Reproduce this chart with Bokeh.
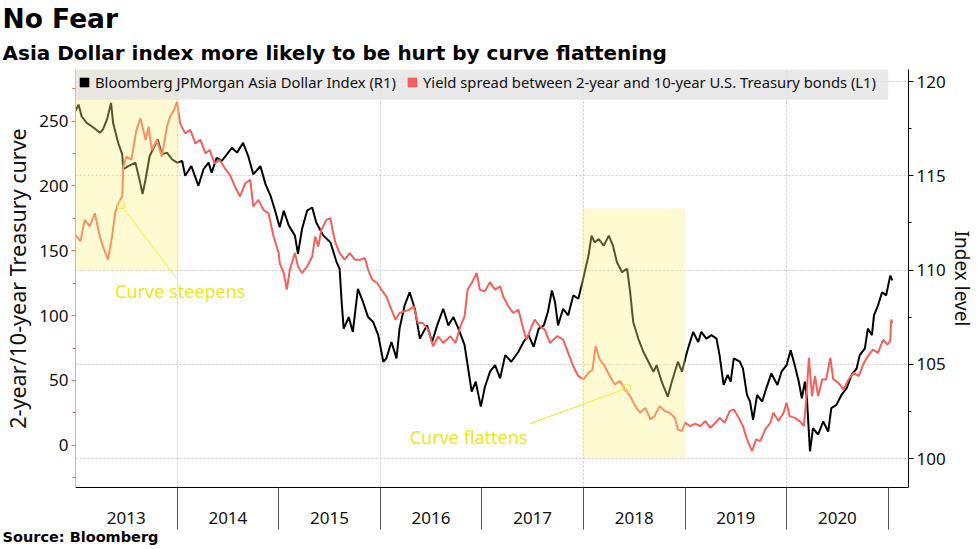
from bokeh.plotting import figure
from bokeh.models import (Range1d, LinearAxis, SingleIntervalTicker, FixedTicker, Grid, Title,
                          BoxAnnotation, Label, Legend, LegendItem, CustomJSTickFormatter)
from bokeh.embed import file_html
from bokeh.resources import INLINE

# ---------------- data ----------------
YEARS = [2013, 2014, 2015, 2016, 2017, 2018, 2019, 2020]
GRID_YEARS = [2014, 2016, 2018, 2020]
LEFT_TICKS_STEP = 50
RIGHT_GRID = [100, 105, 110, 115, 120]

TITLE = "No Fear"
SUBTITLE = "Asia Dollar index more likely to be hurt by curve flattening"
SOURCE = "Source: Bloomberg"
LEGEND_ADXY = "Bloomberg JPMorgan Asia Dollar Index (R1)"
LEGEND_SPREAD = "Yield spread between 2-year and 10-year U.S. Treasury bonds (L1)"

ADXY_T = [
    2013.00, 2013.03, 2013.06, 2013.11, 2013.18, 2013.24, 2013.27, 2013.31, 2013.35, 2013.37,
    2013.42, 2013.46, 2013.47, 2013.52, 2013.59, 2013.64, 2013.66, 2013.69, 2013.73, 2013.81,
    2013.85, 2013.90, 2013.95, 2014.00, 2014.05, 2014.08, 2014.14, 2014.21, 2014.26, 2014.31,
    2014.34, 2014.39, 2014.44, 2014.49, 2014.54, 2014.59, 2014.65, 2014.70, 2014.75, 2014.82,
    2014.87, 2014.92, 2014.96, 2015.01, 2015.05, 2015.10, 2015.16, 2015.19, 2015.23, 2015.28,
    2015.33, 2015.37, 2015.44, 2015.51, 2015.57, 2015.60, 2015.62, 2015.64, 2015.69, 2015.73,
    2015.78, 2015.83, 2015.88, 2015.93, 2015.98, 2016.03, 2016.06, 2016.11, 2016.16, 2016.19,
    2016.24, 2016.29, 2016.34, 2016.39, 2016.46, 2016.51, 2016.56, 2016.62, 2016.67, 2016.72,
    2016.77, 2016.83, 2016.87, 2016.90, 2016.94, 2016.99, 2017.03, 2017.08, 2017.13, 2017.18,
    2017.23, 2017.29, 2017.36, 2017.41, 2017.46, 2017.51, 2017.56, 2017.61, 2017.65, 2017.69,
    2017.72, 2017.75, 2017.80, 2017.85, 2017.90, 2017.95, 2017.99, 2018.02, 2018.05, 2018.08,
    2018.11, 2018.15, 2018.20, 2018.25, 2018.29, 2018.33, 2018.38, 2018.43, 2018.46, 2018.49,
    2018.54, 2018.59, 2018.64, 2018.69, 2018.72, 2018.77, 2018.83, 2018.87, 2018.93, 2018.97,
    2019.02, 2019.05, 2019.08, 2019.13, 2019.16, 2019.21, 2019.26, 2019.31, 2019.34, 2019.38,
    2019.42, 2019.45, 2019.48, 2019.54, 2019.57, 2019.61, 2019.64, 2019.67, 2019.71, 2019.76,
    2019.80, 2019.85, 2019.91, 2019.95, 2020.00, 2020.04, 2020.08, 2020.12, 2020.15, 2020.18,
    2020.20, 2020.23, 2020.26, 2020.31, 2020.36, 2020.41, 2020.44, 2020.49, 2020.54, 2020.59,
    2020.64, 2020.69, 2020.72, 2020.77, 2020.80, 2020.84, 2020.86, 2020.90, 2020.94, 2020.98,
    2021.02, 2021.04,
]
ADXY = [
    118.43, 118.78, 118.16, 117.81, 117.55, 117.28, 117.46, 117.99, 118.87, 117.81,
    116.75, 116.14, 115.35, 115.52, 115.70, 114.56, 114.03, 114.82, 116.05, 116.93,
    116.14, 116.23, 115.88, 115.70, 115.79, 115.00, 115.52, 114.47, 115.35, 115.70,
    115.17, 115.96, 115.79, 116.14, 116.49, 116.23, 116.75, 116.05, 115.08, 115.52,
    114.56, 113.94, 113.24, 112.27, 113.15, 112.36, 111.83, 110.86, 112.18, 113.15,
    113.32, 112.53, 111.83, 111.47, 110.42, 110.07, 108.31, 106.90, 107.51, 106.72,
    109.01, 108.31, 107.51, 107.25, 106.55, 105.14, 105.32, 106.19, 105.32, 106.90,
    108.13, 108.83, 107.95, 106.37, 107.07, 106.19, 107.07, 107.95, 107.07, 107.51,
    106.90, 106.02, 104.61, 103.55, 104.08, 102.76, 103.80, 104.61, 104.96, 104.26,
    105.49, 105.14, 105.67, 106.19, 106.55, 105.93, 106.90, 107.07, 107.78, 108.92,
    108.31, 107.07, 107.95, 107.60, 108.66, 108.48, 109.36, 110.07, 110.77, 111.83,
    111.47, 111.65, 111.30, 111.83, 111.30, 110.42, 109.89, 110.07, 108.83, 107.25,
    106.37, 105.67, 105.14, 104.61, 104.96, 104.08, 103.29, 104.08, 105.14, 104.61,
    105.67, 106.20, 106.72, 106.19, 106.72, 106.37, 106.55, 106.37, 105.49, 103.91,
    104.44, 104.08, 105.32, 105.14, 104.79, 103.38, 103.03, 102.06, 103.38, 103.03,
    103.73, 104.52, 103.91, 104.61, 104.96, 105.75, 104.96, 104.08, 103.20, 104.08,
    103.20, 100.39, 101.62, 101.27, 101.97, 101.44, 102.68, 102.85, 103.38, 103.73,
    104.44, 104.79, 105.49, 105.84, 106.90, 106.55, 107.60, 108.13, 108.83, 108.66,
    109.71, 109.45,
]

SPREAD_T = [
    2013.00, 2013.05, 2013.09, 2013.14, 2013.19, 2013.24, 2013.27, 2013.32, 2013.36, 2013.39,
    2013.42, 2013.46, 2013.47, 2013.50, 2013.55, 2013.60, 2013.64, 2013.69, 2013.72, 2013.75,
    2013.80, 2013.85, 2013.90, 2013.93, 2013.97, 2014.00, 2014.03, 2014.08, 2014.13, 2014.18,
    2014.23, 2014.28, 2014.32, 2014.37, 2014.42, 2014.47, 2014.52, 2014.57, 2014.62, 2014.67,
    2014.72, 2014.75, 2014.80, 2014.85, 2014.90, 2014.95, 2015.00, 2015.01, 2015.05, 2015.08,
    2015.11, 2015.16, 2015.19, 2015.23, 2015.28, 2015.33, 2015.36, 2015.39, 2015.42, 2015.47,
    2015.51, 2015.53, 2015.56, 2015.60, 2015.65, 2015.70, 2015.75, 2015.80, 2015.85, 2015.88,
    2015.92, 2015.97, 2016.01, 2016.06, 2016.11, 2016.15, 2016.19, 2016.24, 2016.29, 2016.33,
    2016.37, 2016.42, 2016.47, 2016.52, 2016.57, 2016.62, 2016.69, 2016.74, 2016.79, 2016.83,
    2016.86, 2016.90, 2016.95, 2016.98, 2017.03, 2017.08, 2017.13, 2017.18, 2017.21, 2017.26,
    2017.31, 2017.36, 2017.41, 2017.44, 2017.49, 2017.52, 2017.57, 2017.62, 2017.67, 2017.74,
    2017.80, 2017.85, 2017.90, 2017.95, 2018.00, 2018.05, 2018.09, 2018.12, 2018.16, 2018.21,
    2018.26, 2018.31, 2018.36, 2018.41, 2018.46, 2018.51, 2018.56, 2018.61, 2018.66, 2018.70,
    2018.75, 2018.80, 2018.85, 2018.90, 2018.93, 2018.97, 2019.00, 2019.05, 2019.10, 2019.15,
    2019.20, 2019.25, 2019.30, 2019.34, 2019.39, 2019.44, 2019.48, 2019.52, 2019.57, 2019.61,
    2019.66, 2019.70, 2019.74, 2019.79, 2019.84, 2019.87, 2019.92, 2019.97, 2020.00, 2020.03,
    2020.08, 2020.13, 2020.17, 2020.19, 2020.22, 2020.25, 2020.28, 2020.31, 2020.35, 2020.39,
    2020.43, 2020.46, 2020.51, 2020.56, 2020.61, 2020.66, 2020.71, 2020.76, 2020.80, 2020.85,
    2020.90, 2020.95, 2020.99, 2021.02, 2021.03, 2021.04,
]
SPREAD = [
    162.3, 157.2, 173.8, 168.7, 178.9, 161.0, 153.3, 143.1, 161.0, 178.9,
    186.6, 191.8, 214.8, 222.5, 220.0, 243.1, 252.0, 235.4, 245.6, 227.7,
    235.4, 222.5, 245.6, 253.3, 258.5, 264.8, 248.2, 240.5, 243.1, 232.8,
    235.4, 225.1, 227.7, 217.4, 220.0, 213.5, 208.5, 199.5, 191.8, 202.0,
    204.6, 184.1, 189.2, 181.5, 178.9, 161.0, 148.2, 140.5, 132.8, 120.0,
    135.4, 148.2, 137.9, 132.8, 137.9, 145.6, 161.0, 153.3, 166.2, 173.8,
    175.1, 166.2, 155.8, 148.2, 143.1, 148.2, 143.1, 143.1, 144.3, 135.4,
    127.7, 125.1, 120.0, 114.8, 104.6, 96.9, 102.0, 103.3, 104.6, 107.2,
    94.3, 94.3, 89.2, 76.4, 84.1, 78.9, 84.1, 78.9, 91.8, 99.5,
    120.0, 125.1, 132.8, 120.0, 118.7, 125.8, 120.0, 122.5, 114.8, 107.2,
    102.0, 104.6, 89.2, 81.5, 91.8, 96.9, 91.8, 89.2, 78.9, 84.1,
    81.5, 71.2, 61.0, 53.3, 50.8, 55.8, 58.5, 76.4, 66.2, 61.0,
    53.3, 46.9, 49.5, 43.1, 37.9, 30.2, 25.1, 28.9, 20.0, 22.5,
    30.2, 26.4, 25.1, 21.2, 12.3, 11.0, 17.4, 14.8, 16.8, 14.8,
    18.7, 13.5, 17.4, 21.2, 17.4, 26.4, 27.7, 22.5, 14.8, 4.6,
    -4.4, 4.6, 3.3, 12.3, 17.4, 25.1, 18.7, 25.1, 32.8, 22.5,
    21.2, 18.7, 14.8, 32.8, 67.4, 37.9, 53.3, 37.9, 50.8, 50.8,
    67.4, 50.8, 48.2, 43.1, 50.8, 55.8, 53.3, 63.5, 68.7, 73.8,
    71.2, 81.5, 77.7, 80.2, 96.9, 94.3,
]

# ---------------- styling ----------------
RED = "#f4605c"
YEL_FILL = "#fbf07c"
YEL_TEXT = "#eee61a"
TICK_FONT = "Noto Sans"
TITLE_FONT = "DejaVu Sans"

W, H = 977, 549
FRAME_LEFT = 75
p = figure(width=W, height=H, output_backend="svg", toolbar_location=None,
           x_range=Range1d(2013.0, 2021.2), y_range=Range1d(-32.5, 289.7),
           min_border_left=FRAME_LEFT, min_border_right=67, min_border_top=68, min_border_bottom=62,
           outline_line_color=None, background_fill_color="white")
p.extra_y_ranges = {"r": Range1d(98.47, 120.64)}

# bottom axis: year labels centred inside each year, long separators at year boundaries
xa = p.xaxis[0]
xa.ticker = FixedTicker(ticks=[y + 0.5 for y in YEARS], minor_ticks=YEARS[1:] + [YEARS[-1] + 1])
xa.formatter = CustomJSTickFormatter(code="return String(Math.floor(tick));")
xa.major_tick_out = 0
xa.major_tick_in = 0
xa.minor_tick_out = 42
xa.minor_tick_in = 0
xa.minor_tick_line_color = "#555555"
xa.axis_line_color = "black"
xa.major_label_standoff = -18
xa.major_label_text_font = TICK_FONT
xa.major_label_text_font_size = "17px"
xa.major_label_text_line_height = 1.0
xa.major_label_text_color = "#111111"

# left axis (yield spread)
ya = p.yaxis[0]
ya.ticker = SingleIntervalTicker(interval=LEFT_TICKS_STEP, num_minor_ticks=2)
ya.axis_line_color = "#f6a5a3"
ya.major_tick_line_color = RED
ya.minor_tick_line_color = RED
ya.major_tick_out = 4
ya.major_tick_in = 0
ya.minor_tick_out = 3
ya.minor_tick_in = 0
ya.major_label_standoff = 3
ya.major_label_text_font = TICK_FONT
ya.major_label_text_font_size = "17px"
ya.major_label_text_color = "#111111"
ya.axis_label = "2-year/10-year Treasury curve"
ya.axis_label_text_font = TICK_FONT
ya.axis_label_text_font_size = "21.5px"
ya.axis_label_text_font_style = "normal"
ya.axis_label_text_color = "#111111"
ya.axis_label_standoff = 4

# right axis (index level)
ra = LinearAxis(y_range_name="r", ticker=SingleIntervalTicker(interval=5, num_minor_ticks=2))
ra.axis_line_color = "black"
ra.major_tick_out = 5
ra.major_tick_in = 0
ra.minor_tick_out = 3
ra.minor_tick_in = 0
ra.major_label_standoff = 3
ra.major_label_text_font = TICK_FONT
ra.major_label_text_font_size = "17px"
ra.major_label_text_color = "#111111"
ra.axis_label = "Index level"
ra.axis_label_text_font = TICK_FONT
ra.axis_label_text_font_size = "19px"
ra.axis_label_text_font_style = "normal"
ra.axis_label_text_color = "#111111"
ra.axis_label_standoff = 0
p.add_layout(ra, "right")

# grids
p.xgrid.ticker = FixedTicker(ticks=GRID_YEARS)
p.xgrid.grid_line_color = "#c8c8c8"
p.xgrid.grid_line_dash = "2 2"
p.ygrid.visible = False
rgrid = Grid(dimension=1, ticker=FixedTicker(ticks=RIGHT_GRID), y_range_name="r",
             grid_line_color="#c8c8c8", grid_line_dash="2 2")
p.add_layout(rgrid)

# series
p.line(ADXY_T, ADXY, y_range_name="r", line_color="black", line_width=2)
p.line(SPREAD_T, SPREAD, line_color=RED, line_width=2)

# annotation connectors
p.segment(x0=[2013.446, 2018.426], y0=[185.5, 44.0], x1=[2013.99, 2017.474], y1=[129.2, 16.7],
          line_color=YEL_TEXT, line_width=1)
p.scatter(x=[2013.446, 2018.426], y=[185.5, 44.0], marker="circle", size=8,
          fill_color=None, line_color=YEL_TEXT, line_width=1)

# highlight boxes
p.add_layout(BoxAnnotation(left=2013.0, right=2014.02, bottom=134.8, top=289.7,
                           fill_color=YEL_FILL, fill_alpha=0.35, line_color=None))
p.add_layout(BoxAnnotation(left=2017.98, right=2019.0, bottom=-9.8, top=182.5,
                           fill_color=YEL_FILL, fill_alpha=0.35, line_color=None))
# legend band
p.add_layout(BoxAnnotation(left=2013.0, right=2021.0, bottom=266.3, top=289.7,
                           fill_color="#e4e4e4", fill_alpha=0.8, line_color=None))

# annotation texts
p.add_layout(Label(x=2013.39, y=119, text="Curve steepens", text_color=YEL_TEXT,
                   text_font=TICK_FONT, text_font_size="18px", text_baseline="middle"))
p.add_layout(Label(x=2016.29, y=6.1, text="Curve flattens", text_color=YEL_TEXT,
                   text_font=TICK_FONT, text_font_size="18px", text_baseline="middle"))

# legend (square swatches from zero-size quads sitting on the first data point)
r1 = p.quad(left=ADXY_T[:1], right=ADXY_T[:1], top=SPREAD[:1], bottom=SPREAD[:1],
            fill_color="black", line_color=None)
r2 = p.quad(left=SPREAD_T[:1], right=SPREAD_T[:1], top=SPREAD[:1], bottom=SPREAD[:1],
            fill_color=RED, line_color=None)
legend = Legend(items=[LegendItem(label=LEGEND_ADXY, renderers=[r1]),
                       LegendItem(label=LEGEND_SPREAD, renderers=[r2])],
                location="top_left", orientation="horizontal",
                margin=3, padding=8, spacing=10, label_standoff=5,
                glyph_width=12, glyph_height=12, label_height=12,
                background_fill_alpha=0, border_line_color=None,
                label_text_font=TICK_FONT, label_text_font_size="14.8px",
                label_text_color="#111111")
p.add_layout(legend)

# titles (above) and source (below)
p.add_layout(Title(text=SUBTITLE, align="left", offset=2 - FRAME_LEFT, standoff=10,
                   text_font=TITLE_FONT, text_font_size="20px", text_font_style="bold",
                   text_line_height=0.8, text_color="black"), "above")
p.add_layout(Title(text=TITLE, align="left", offset=2 - FRAME_LEFT, standoff=0,
                   text_font=TITLE_FONT, text_font_size="26.5px", text_font_style="bold",
                   text_line_height=1.0, text_color="black"), "above")
p.add_layout(Title(text=SOURCE, align="left", offset=2 - FRAME_LEFT, standoff=0,
                   text_font=TITLE_FONT, text_font_size="14.5px", text_font_style="bold",
                   text_line_height=1.0, text_color="black"), "below")

open("out.html", "w").write(file_html(p, INLINE))
